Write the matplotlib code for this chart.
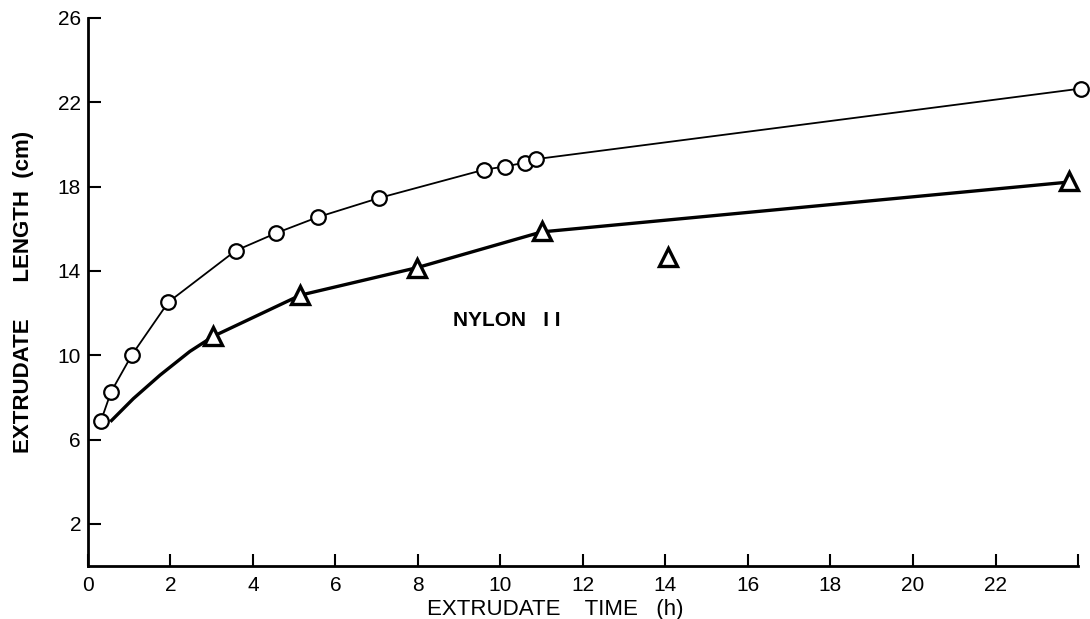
import matplotlib.pyplot as plt

# circles (upper series)
c_time = [0.31, 0.56, 1.06, 1.95, 3.58, 4.57, 5.57, 7.06, 9.6, 10.1, 10.6, 10.85, 24.07]
c_len = [6.86, 8.26, 10.0, 12.52, 14.96, 15.8, 16.55, 17.46, 18.8, 18.95, 19.14, 19.3, 22.65]

# triangles (lower series)
t_time = [3.04, 5.15, 7.97, 11.0, 14.07, 23.77]
t_len = [10.9, 12.85, 14.15, 15.9, 14.64, 18.28]

# hand-drawn curve through the triangles
fit_time = [0.57, 1.1, 1.75, 2.47, 3.04, 5.15, 7.97, 11.0, 23.7]
fit_len = [6.9, 7.94, 9.06, 10.18, 10.9, 12.85, 14.15, 15.85, 18.2]

x_ticks = [0, 2, 4, 6, 8, 10, 12, 14, 16, 18, 20, 22, 24]
x_labels = ['0', '2', '4', '6', '8', '10', '12', '14', '16', '18', '20', '22', '']
y_ticks = [2, 6, 10, 14, 18, 22, 26]

plt.rcParams['font.family'] = ['Liberation Sans', 'DejaVu Sans']

fig = plt.figure(figsize=(10.9, 6.19), dpi=100)
ax = fig.add_axes([0.0807, 0.0856, 0.9083, 0.8854])

# upper curve and circles
ax.plot(c_time, c_len, color='black', linewidth=1.3, clip_on=False, zorder=2)
ax.plot(c_time, c_len, linestyle='none', marker='o', markersize=10.5,
        markerfacecolor='white', markeredgecolor='black', markeredgewidth=1.6,
        clip_on=False, zorder=3)

# lower curve and triangles
ax.plot(fit_time, fit_len, color='black', linewidth=2.4, zorder=2)
ax.plot(t_time, t_len, linestyle='none', marker='^', markersize=13,
        markerfacecolor='white', markeredgecolor='black', markeredgewidth=2.4,
        clip_on=False, zorder=3)

ax.text(8.85, 11.67, 'NYLON   I I', fontsize=15, fontweight='bold', va='center', ha='left')

ax.set_xlim(0, 24)
ax.set_ylim(0, 26)
ax.set_xticks(x_ticks)
ax.set_xticklabels(x_labels)
ax.set_yticks(y_ticks)

for side in ['top', 'right']:
    ax.spines[side].set_visible(False)
for side in ['left', 'bottom']:
    ax.spines[side].set_linewidth(2)

ax.tick_params(direction='in', length=9, width=1.5, labelsize=15)
ax.tick_params(axis='x', pad=7)
ax.tick_params(axis='y', pad=5)

ax.set_xlabel('EXTRUDATE    TIME   (h)', fontsize=16)
ax.xaxis.set_label_coords(0.472, -0.06)
ax.set_ylabel('EXTRUDATE      LENGTH  (cm)', fontsize=16, fontweight='bold')
ax.yaxis.set_label_coords(-0.055, 0.5)

plt.savefig('out.png', dpi=100)
